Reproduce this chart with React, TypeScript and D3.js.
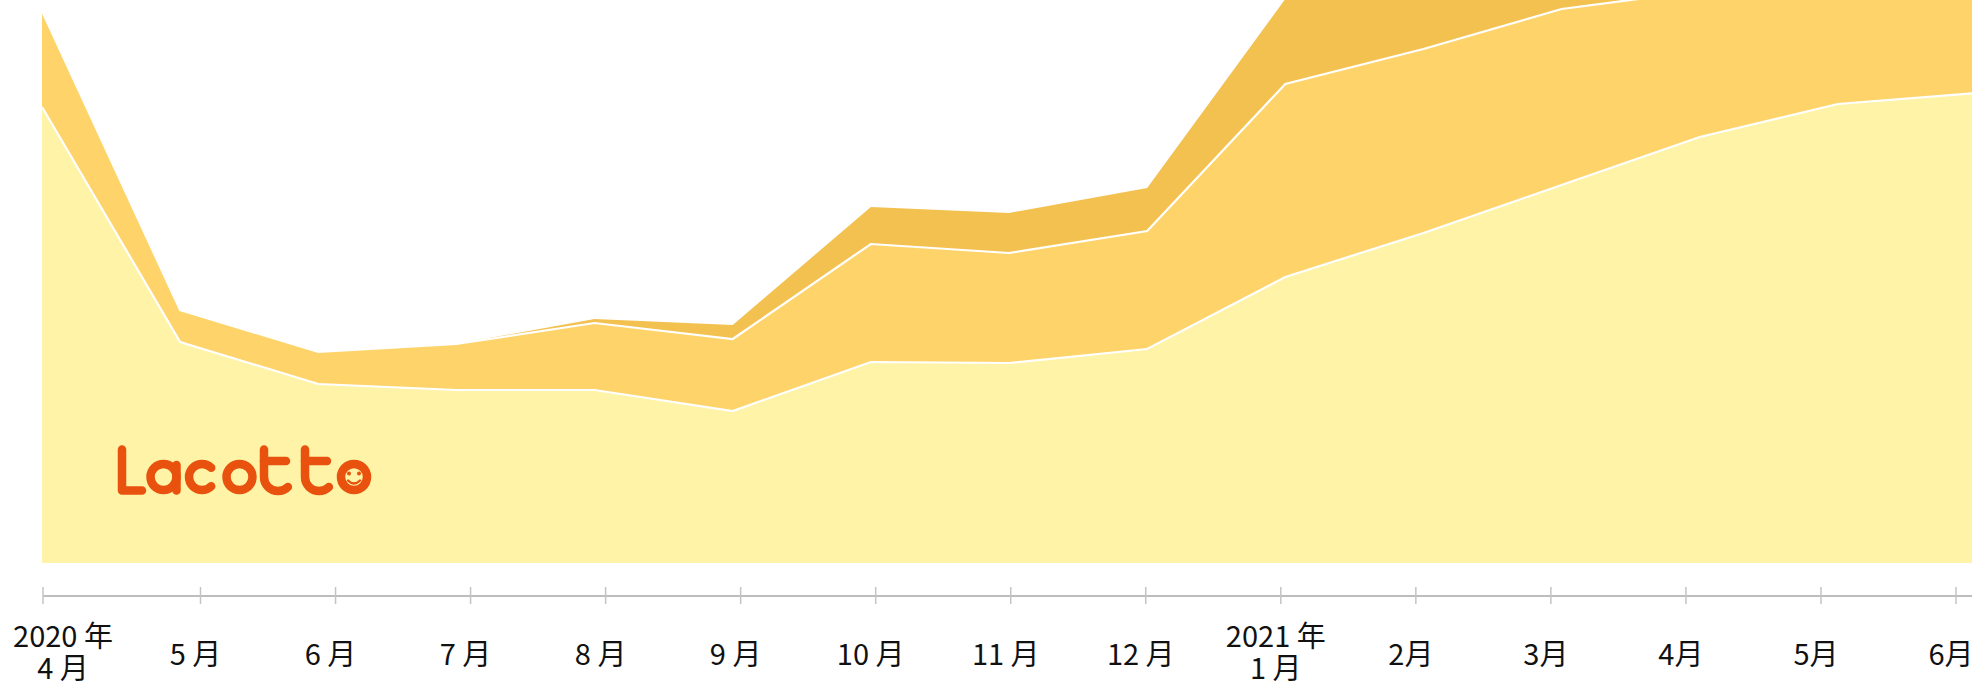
import * as d3 from 'd3'

// x-axis tick labels (one entry per month, multi-line for year starts)
const monthLabels: string[][] = [
  ['2020 年', '4 月'], ['5 月'], ['6 月'], ['7 月'], ['8 月'], ['9 月'], ['10 月'], ['11 月'], ['12 月'],
  ['2021 年', '1 月'], ['2月'], ['3月'], ['4月'], ['5月'], ['6月'],
]

// stacked series, bottom to top
const baseValues = [4560, 2210, 1790, 1730, 1730, 1520, 2010, 2000, 2140, 2860, 3300, 3780, 4260, 4590, 4700]
const middleValues = [960, 320, 320, 460, 670, 720, 1180, 1100, 1180, 1930, 1840, 1760, 1460, 1300, 1330]
const topValues = [0, 0, 0, 0, 40, 140, 370, 400, 430, 850, 1000, 1100, 1200, 1300, 1400]

const keys = ['base', 'middle', 'top']
const colors: Record<string, string> = { base: '#FEF3A7', middle: '#FED46A', top: '#F3C14F' }

type Row = { base: number; middle: number; top: number }
const rows: Row[] = baseValues.map((v, i) => ({ base: v, middle: middleValues[i], top: topValues[i] }))

const WIDTH = 1972
const HEIGHT = 683
const LOGO = '#E8520E'

function Logo() {
  const w = 8.5
  return (
    <g fill="none" stroke={LOGO} strokeWidth={w} strokeLinecap="round" strokeLinejoin="round">
      <path d="M122,449.5 V490.5 H142" />
      <circle cx={163.5} cy={477} r={13} />
      <path d="M176.5,465 V490.5" />
      <path d="M211.2,467.8 A13,13 0 1 0 211.2,486.2" />
      <circle cx={239.5} cy={477} r={13} />
      <path d="M264,449.5 V477 A14,14 0 0 0 278,491 A14,14 0 0 0 287.9,486.9" />
      <path d="M264,461 H286" />
      <path d="M305,449.5 V477 A14,14 0 0 0 319,491 A14,14 0 0 0 328.9,486.9" />
      <path d="M305,461 H327" />
      <circle cx={354} cy={477} r={13} />
      <circle cx={349} cy={473.5} r={2} fill={LOGO} stroke="none" />
      <circle cx={359} cy={473.5} r={2} fill={LOGO} stroke="none" />
      <path d="M348,480.5 Q354,486.5 360,480.5" strokeWidth={2.4} />
    </g>
  )
}

export default function App() {
  const x = d3.scaleLinear().domain([0, rows.length - 1]).range([42, 1976])
  const y = d3.scaleLinear().domain([0, 5630]).range([563, 0])

  const series = d3.stack<Row>().keys(keys)(rows)

  const area = d3
    .area<d3.SeriesPoint<Row>>()
    .x((_, i) => x(i))
    .y0((d) => y(d[0]))
    .y1((d) => y(d[1]))

  const line = d3
    .line<d3.SeriesPoint<Row>>()
    .x((_, i) => x(i))
    .y((d) => y(d[1]))

  // month ticks are evenly spaced from May on; the first one sits at the plot's left edge
  const monthX = d3.scaleLinear().domain([1, monthLabels.length - 1]).range([200.5, 1956])
  const tickX = (i: number) => (i === 0 ? x(0) + 1 : monthX(i))
  const labelX = (i: number) => Math.max(tickX(i) - 5, 63)

  const axisY = 596

  return (
    <svg
      width={WIDTH}
      height={HEIGHT}
      style={{ position: 'absolute', left: 0, top: 0, display: 'block', background: '#fff' }}
      fontFamily="'Noto Sans CJK JP', 'Noto Sans', sans-serif"
    >
      {series.map((s) => (
        <path key={s.key} d={area(s) ?? ''} fill={colors[s.key]} />
      ))}
      {series.slice(0, 2).map((s) => (
        <path key={`line-${s.key}`} d={line(s) ?? ''} fill="none" stroke="#fff" strokeWidth={2.2} />
      ))}

      <Logo />

      <line x1={tickX(0)} x2={WIDTH} y1={axisY} y2={axisY} stroke="#BDBDBD" strokeWidth={2.2} />
      {monthLabels.map((lab, i) => (
        <g key={i}>
          <line x1={tickX(i)} x2={tickX(i)} y1={axisY - 9} y2={axisY + 8} stroke="#C4C4C4" strokeWidth={1.5} />
          {lab.length === 2 ? (
            <text textAnchor="middle" fontSize={29} fill="#111">
              <tspan x={labelX(i)} y={647}>{lab[0]}</tspan>
              <tspan x={labelX(i)} y={679}>{lab[1]}</tspan>
            </text>
          ) : (
            <text x={labelX(i)} y={665} textAnchor="middle" fontSize={29} fill="#111">
              {lab[0]}
            </text>
          )}
        </g>
      ))}
    </svg>
  )
}
